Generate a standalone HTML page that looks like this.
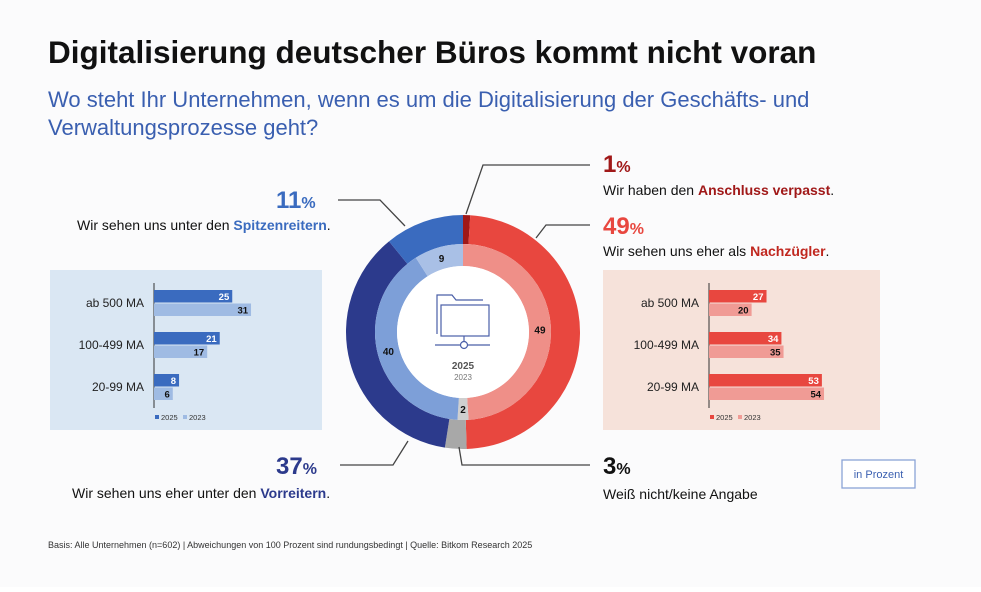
<!DOCTYPE html>
<html><head><meta charset="utf-8"><style>
body{margin:0;background:#fff;font-family:"Liberation Sans",sans-serif}
svg text{font-family:"Liberation Sans",sans-serif}
</style></head><body>
<svg width="981" height="587" viewBox="0 0 981 587">
<rect width="981" height="587" fill="#fbfbfc"/>
<text x="48" y="63" font-size="31.5" font-weight="bold" fill="#111">Digitalisierung deutscher Büros kommt nicht voran</text>
<text x="48" y="107" font-size="22" fill="#3a5fb0">Wo steht Ihr Unternehmen, wenn es um die Digitalisierung der Geschäfts- und</text>
<text x="48" y="135" font-size="22" fill="#3a5fb0">Verwaltungsprozesse geht?</text>

<rect x="50" y="270" width="272" height="160" fill="#dae7f3"/>
<rect x="603" y="270" width="277" height="160" fill="#f6e2da"/>
<g id="left"></g><g id="right"></g><g id="donut"></g>

<g stroke="#444" stroke-width="1.3" fill="none">
<polyline points="338,200 380,200 405,226"/>
<polyline points="590,165 483,165 466,214"/>
<polyline points="590,225 546,225 536,238"/>
<polyline points="340,465 393,465 408,441"/>
<polyline points="459,447 462,465 590,465"/>
</g>
<g>
<text x="276" y="208" font-size="24" font-weight="bold" fill="#3a6bbf">11<tspan font-size="16">%</tspan></text>
<text x="77" y="230" font-size="14" fill="#111">Wir sehen uns unter den <tspan font-weight="bold" fill="#3a6bbf">Spitzenreitern</tspan>.</text>
</g>
<g>
<text x="603" y="172" font-size="24" font-weight="bold" fill="#a01818">1<tspan font-size="16">%</tspan></text>
<text x="603" y="195" font-size="14" fill="#111">Wir haben den <tspan font-weight="bold" fill="#a01818">Anschluss verpasst</tspan>.</text>
</g>
<g>
<text x="603" y="234" font-size="24" font-weight="bold" fill="#e8473f">49<tspan font-size="16">%</tspan></text>
<text x="603" y="256" font-size="14" fill="#111">Wir sehen uns eher als <tspan font-weight="bold" fill="#c0271f">Nachzügler</tspan>.</text>
</g>
<g>
<text x="276" y="474" font-size="24" font-weight="bold" fill="#2c3a8c">37<tspan font-size="16">%</tspan></text>
<text x="72" y="498" font-size="14" fill="#111">Wir sehen uns eher unter den <tspan font-weight="bold" fill="#2c3a8c">Vorreitern</tspan>.</text>
</g>
<g>
<text x="603" y="474" font-size="24" font-weight="bold" fill="#111">3<tspan font-size="16">%</tspan></text>
<text x="603" y="499" font-size="14" fill="#111">Weiß nicht/keine Angabe</text>
</g>
<rect x="842" y="460" width="73" height="28" fill="#fff" stroke="#8aa3d6" stroke-width="1.3"/>
<text x="878.5" y="478" font-size="11" fill="#3a5fb0" text-anchor="middle">in Prozent</text>
<text x="48" y="548" font-size="9" fill="#333">Basis: Alle Unternehmen (n=602) | Abweichungen von 100 Prozent sind rundungsbedingt | Quelle: Bitkom Research 2025</text>
</svg>
<script>
const NS="http://www.w3.org/2000/svg";
const categories=["ab 500 MA","100-499 MA","20-99 MA"];
const left2025=[25,21,8];
const left2023=[31,17,6];
const right2025=[27,34,53];
const right2023=[20,35,54];
const donut2025Values=[1,49,3,37,11];
const donut2025Colors=["#a01818","#e8473f","#a8a8a8","#2c3a8c","#3a6bbf"];
const donut2023Values=[49,2,40,9];
const donut2023Colors=["#ef8f88","#cfcfcf","#7d9fd8","#a9c0e6"];
const donut2023Labels=["49","2","40","9"];

function mk(tag,attrs,parent){const e=document.createElementNS(NS,tag);for(const k in attrs)e.setAttribute(k,attrs[k]);parent.appendChild(e);return e;}

function barPanel(gid,axisX,scale,v25,v23,c25,c23,y0,legendX){
  const g=document.getElementById(gid);
  mk("line",{x1:axisX,y1:283,x2:axisX,y2:408,stroke:"#333","stroke-width":1},g);
  categories.forEach((c,i)=>{
    const y=y0+i*42;
    const t=mk("text",{x:axisX-10,y:y+17,"font-size":12,"text-anchor":"end",fill:"#222"},g);
    t.textContent=c;
    
    
    const w1=v25[i]*scale, w2=v23[i]*scale;
    const b1=mk("rect",{x:axisX,y:y,width:w1,height:12.5,fill:c25},g);
    
    
    const l1=mk("text",{x:axisX+w1-3,y:y+10,"font-size":9.5,"font-weight":"bold","text-anchor":"end",fill:"#fff"},g);l1.textContent=v25[i];
    
    
    const b2=mk("rect",{x:axisX,y:y+13.5,width:w2,height:12.5,fill:c23},g);
    
    
    const l2=mk("text",{x:axisX+w2-3,y:y+23.5,"font-size":9.5,"font-weight":"bold","text-anchor":"end",fill:"#111"},g);l2.textContent=v23[i];
    
    
  });
  const lg=mk("g",{},g);
  
  
  mk("rect",{x:legendX,y:415,width:4,height:4,fill:c25},lg);
  mk("text",{x:legendX+6,y:420,"font-size":7.5,fill:"#333"},lg).textContent="2025";
  mk("rect",{x:legendX+28,y:415,width:4,height:4,fill:c23},lg);
  mk("text",{x:legendX+34,y:420,"font-size":7.5,fill:"#333"},lg).textContent="2023";
}
barPanel("left",154,3.13,left2025,left2023,"#3a6bbf","#9fbbe3",290,155);
barPanel("right",709,2.13,right2025,right2023,"#e8473f","#f09b95",290,710);

const cx=463,cy=332;
function arc(r0,r1,a0,a1){
  const p=(r,a)=>[cx+r*Math.sin(a),cy-r*Math.cos(a)];
  const lg=(a1-a0)>Math.PI?1:0;
  const [x1,y1]=p(r1,a0),[x2,y2]=p(r1,a1),[x3,y3]=p(r0,a1),[x4,y4]=p(r0,a0);
  return `M${x1},${y1}A${r1},${r1} 0 ${lg} 1 ${x2},${y2}L${x3},${y3}A${r0},${r0} 0 ${lg} 0 ${x4},${y4}Z`;
}
function ring(vals,cols,r0,r1,labels){
  const g=document.getElementById("donut");
  const tot=vals.reduce((a,b)=>a+b,0);let a=0;
  vals.forEach((v,i)=>{
    const a0=a/tot*2*Math.PI;a+=v;const a1=a/tot*2*Math.PI;
    const s=mk("path",{d:arc(r0,r1,a0,a1),fill:cols[i]},g);
    
    
    if(labels){
      const m=(a0+a1)/2,r=(r0+r1)/2;
      const t=mk("text",{x:cx+r*Math.sin(m),y:cy-r*Math.cos(m)+4,"font-size":10,"font-weight":"bold","text-anchor":"middle",fill:"#111"},g);
      t.textContent=labels[i];
      
      
    }
  });
}
ring(donut2025Values,donut2025Colors,88,117,null);
ring(donut2023Values,donut2023Colors,66,88,donut2023Labels);
const dg=document.getElementById("donut");
mk("circle",{cx:cx,cy:cy,r:66,fill:"#fff"},dg);
const ic=mk("g",{fill:"none",stroke:"#4a5fa8","stroke-width":1.2},dg);


mk("path",{d:"M437,334 V295 H452 L456,300 H483"},ic);
mk("rect",{x:441,y:305,width:48,height:31},ic);
mk("line",{x1:464,y1:336,x2:464,y2:341},ic);
mk("circle",{cx:464,cy:345,r:3.5},ic);
mk("line",{x1:435,y1:345,x2:460,y2:345},ic);
mk("line",{x1:468,y1:345,x2:490,y2:345},ic);
const y1=mk("text",{x:463,y:369,"font-size":10,"font-weight":"bold","text-anchor":"middle",fill:"#555"},dg);y1.textContent="2025";


const y2=mk("text",{x:463,y:380,"font-size":8,"text-anchor":"middle",fill:"#777"},dg);y2.textContent="2023";


</script>
</body></html>
